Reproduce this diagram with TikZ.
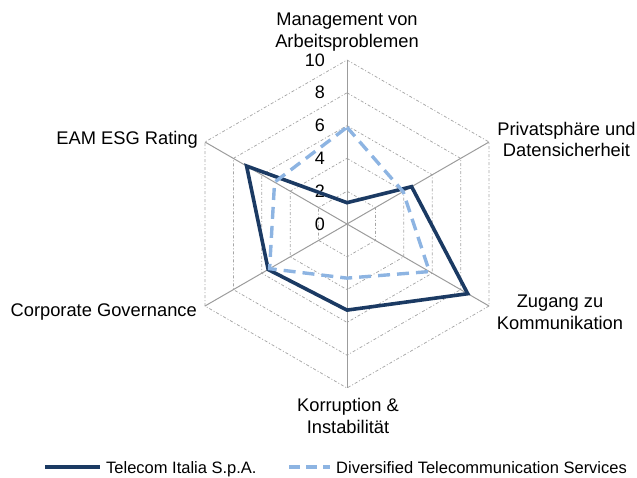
\documentclass[tikz,border=0pt]{standalone}
\usepackage{fontspec}
\setmainfont{Liberation Sans}
\usetikzlibrary{calc}
\definecolor{navy}{HTML}{1B3A63}
\definecolor{lblue}{HTML}{8DB4E2}
\definecolor{gridgray}{HTML}{A6A6A6}
\definecolor{axisgray}{HTML}{9C9C9C}
\begin{document}
\begin{tikzpicture}[x=1pt,y=1pt,
  lab/.style={font=\fontsize{18.3}{21.5}\selectfont, align=center, inner sep=0pt},
  ticklab/.style={font=\fontsize{18}{20}\selectfont, anchor=east, inner sep=0pt},
  leglab/.style={font=\fontsize{16.5}{19}\selectfont, anchor=base west, inner sep=0pt},
  gridl/.style={draw=gridgray, line width=0.75pt, dash pattern=on 3pt off 2pt on 1pt off 2pt},
  axisl/.style={draw=axisgray, line width=1pt},
  tiline/.style={draw=navy, line width=3.6pt, line join=miter},
  divline/.style={draw=lblue, line width=3.4pt, line join=miter, dash pattern=on 12pt off 7pt},
]
\useasboundingbox (0,0) rectangle (637,-477);
\begin{scope}[shift={(347,-224)}]
  % grid rings
  \foreach \v in {2,4,6,8,10} {
    \pgfmathsetmacro{\rr}{\v*16.4}
    \draw[gridl] (90:\rr) -- (30:\rr) -- (-30:\rr) -- (-90:\rr) -- (-150:\rr) -- (150:\rr) -- cycle;
  }
  % axes
  \coordinate (o) at (0,0);
  \foreach \a/\n in {90/ax1,30/ax2,-30/ax3,-90/ax4,-150/ax5,150/ax6} {
    \coordinate (\n) at (\a:164);
    \draw[axisl] (o) -- (\n);
  }
  % tick labels
  \foreach \v/\n in {0/t0,2/t2,4/t4,6/t6,8/t8,10/t10}
    \node[ticklab] (\n) at (-22,\v*16.4) {\v};
  % Telecom Italia
  \draw[tiline] (90:1.3*16.4) -- (30:4.55*16.4) -- (-30:8.5*16.4) -- (-90:5.25*16.4)
     -- (-150:5.55*16.4) -- (150:7.07*16.4) -- cycle;
  % Diversified Telecommunication Services
  \draw[divline] (90:5.9*16.4) -- (30:3.95*16.4) -- (-30:5.8*16.4) -- (-90:3.3*16.4)
     -- (-150:5.45*16.4) -- (150:5.1*16.4) -- cycle;
\end{scope}
% axis labels
\node[lab] (l1) at (347,-32.2) {Management von\\Arbeitsproblemen};
\node[lab] (l2) at (566.5,-139.6) {Privatsphäre und\\Datensicherheit};
\node[lab] (l3) at (560,-312.5) {Zugang zu\\Kommunikation};
\node[lab] (l4) at (348,-416) {Korruption \&\\Instabilität};
\node[lab, anchor=base east] (l5) at (197,-316.7) {Corporate Governance};
\node[lab, anchor=base east] (l6) at (198,-144.5) {EAM ESG Rating};
% legend
\coordinate (lg1a) at (45,-467);
\coordinate (lg1b) at (100,-467);
\draw[tiline] (lg1a) -- (lg1b);
\node[leglab] (lt1) at (106,-473.2) {Telecom Italia S.p.A.};
\coordinate (lg2a) at (289,-467);
\coordinate (lg2b) at (330,-467);
\draw[divline, dash pattern=on 11pt off 6pt] (lg2a) -- (lg2b);
\node[leglab] (lt2) at (336,-473.2) {Diversified Telecommunication Services};
\end{tikzpicture}
\end{document}
